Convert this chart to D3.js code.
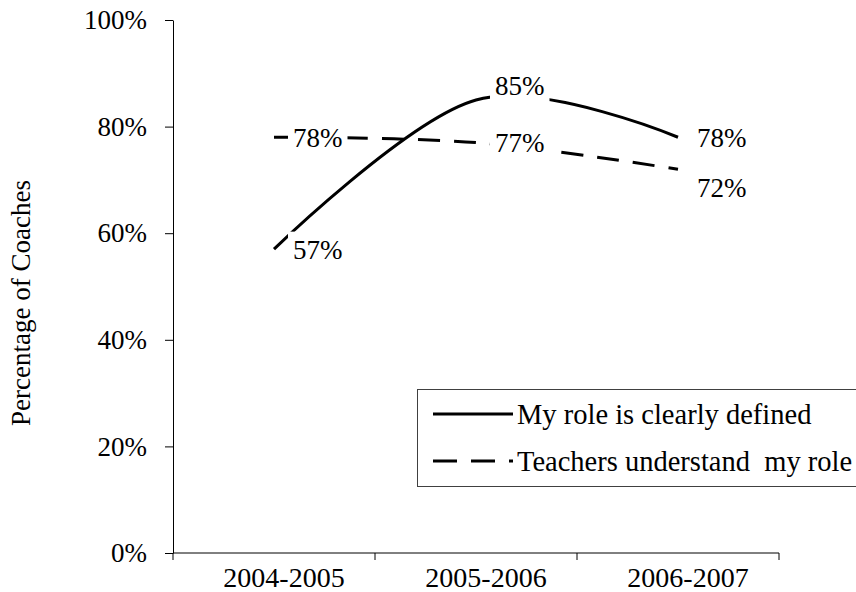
<!DOCTYPE html>
<html>
<head>
<meta charset="utf-8">
<script src="https://cdn.jsdelivr.net/npm/d3@7"></script>
<style>
  body { margin: 0; background: #fff; }
</style>
</head>
<body>
<svg id="chart" width="856" height="592"></svg>
<script>
const years = ["2004-2005", "2005-2006", "2006-2007"];
const roleDefined = [0.57, 0.85, 0.78];
const teachersUnderstand = [0.78, 0.77, 0.72];
const seriesNames = ["My role is clearly defined", "Teachers understand  my role"];
const yTicks = [0, 0.2, 0.4, 0.6, 0.8, 1.0];

const serif = "'Liberation Serif', 'Times New Roman', serif";
const svg = d3.select("#chart");

const x = d3.scaleBand()
  .domain(years)
  .range([173, 779]);

const y = d3.scaleLinear()
  .domain([0, 1])
  .range([553, 20]);

const fmt = d3.format(".0%");

// y axis
svg.append("g")
  .attr("transform", "translate(173,0)")
  .call(d3.axisLeft(y).tickValues(yTicks).tickFormat(fmt).tickSize(8).tickPadding(18).tickSizeOuter(0))
  .attr("font-family", serif)
  .attr("font-size", 27)
  .call(g => g.selectAll("text").attr("fill", "#000"))
  .call(g => g.selectAll("line, .domain").attr("stroke", "#000"));

// x axis: ticks on the category boundaries, labels under the centres
svg.append("line")
  .attr("x1", 173).attr("x2", 779)
  .attr("y1", 553).attr("y2", 553)
  .attr("stroke", "#000");
svg.append("g")
  .selectAll("line")
  .data(years.map(d => x(d)).concat([x.range()[1]]))
  .enter().append("line")
  .attr("x1", d => d).attr("x2", d => d)
  .attr("y1", 553).attr("y2", 560)
  .attr("stroke", "#000");
svg.append("g")
  .selectAll("text")
  .data(years)
  .enter().append("text")
  .attr("x", d => x(d) + x.bandwidth() / 2 + 10)
  .attr("y", 587)
  .attr("text-anchor", "middle")
  .attr("font-family", serif)
  .attr("font-size", 28)
  .text(d => d);

svg.append("text")
  .attr("transform", "translate(30,303) rotate(-90)")
  .attr("text-anchor", "middle")
  .attr("font-family", serif)
  .attr("font-size", 27)
  .text("Percentage of Coaches");

const cx = d => x(d) + x.bandwidth() / 2;

const line = d3.line()
  .x(d => cx(d.year))
  .y(d => y(d.value))
  .curve(d3.curveCardinal);

const series = [
  { name: seriesNames[0], values: roleDefined, dash: null, labelDy: [0, -14, 0] },
  { name: seriesNames[1], values: teachersUnderstand, dash: "22,14", labelDy: [0, 0, 18] }
];

series.forEach(s => {
  svg.append("path")
    .datum(years.map((yr, i) => ({ year: yr, value: s.values[i] })))
    .attr("fill", "none")
    .attr("stroke", "#000")
    .attr("stroke-width", 3)
    .attr("stroke-dasharray", s.dash)
    .attr("d", line);
});

// data labels with white boxes over the lines
series.forEach(s => {
  years.forEach((yr, i) => {
    const g = svg.append("g");
    const t = g.append("text")
      .attr("x", cx(yr) + 19)
      .attr("y", y(s.values[i]) + s.labelDy[i])
      .attr("dy", "0.35em")
      .attr("font-family", serif)
      .attr("font-size", 27)
      .text(fmt(s.values[i]));
    const b = t.node().getBBox();
    g.insert("rect", "text")
      .attr("x", b.x - 5).attr("y", b.y - 3)
      .attr("width", b.width + 10).attr("height", b.height + 6)
      .attr("fill", "#fff");
  });
});

// legend
const legend = svg.append("g");
legend.append("rect")
  .attr("x", 417.5).attr("y", 389.5)
  .attr("width", 450).attr("height", 97)
  .attr("fill", "#fff")
  .attr("stroke", "#404040");

series.forEach((s, i) => {
  const ly = 414 + i * 47;
  legend.append("line")
    .attr("x1", 433).attr("x2", 513)
    .attr("y1", ly).attr("y2", ly)
    .attr("stroke", "#000")
    .attr("stroke-width", 3)
    .attr("stroke-dasharray", s.dash ? "24,14" : null);
  legend.append("text")
    .attr("x", 517)
    .attr("y", ly)
    .attr("dy", "0.35em")
    .attr("font-family", serif)
    .attr("font-size", 28.5)
    .style("white-space", "pre")
    .text(s.name);
});
</script>
</body>
</html>
